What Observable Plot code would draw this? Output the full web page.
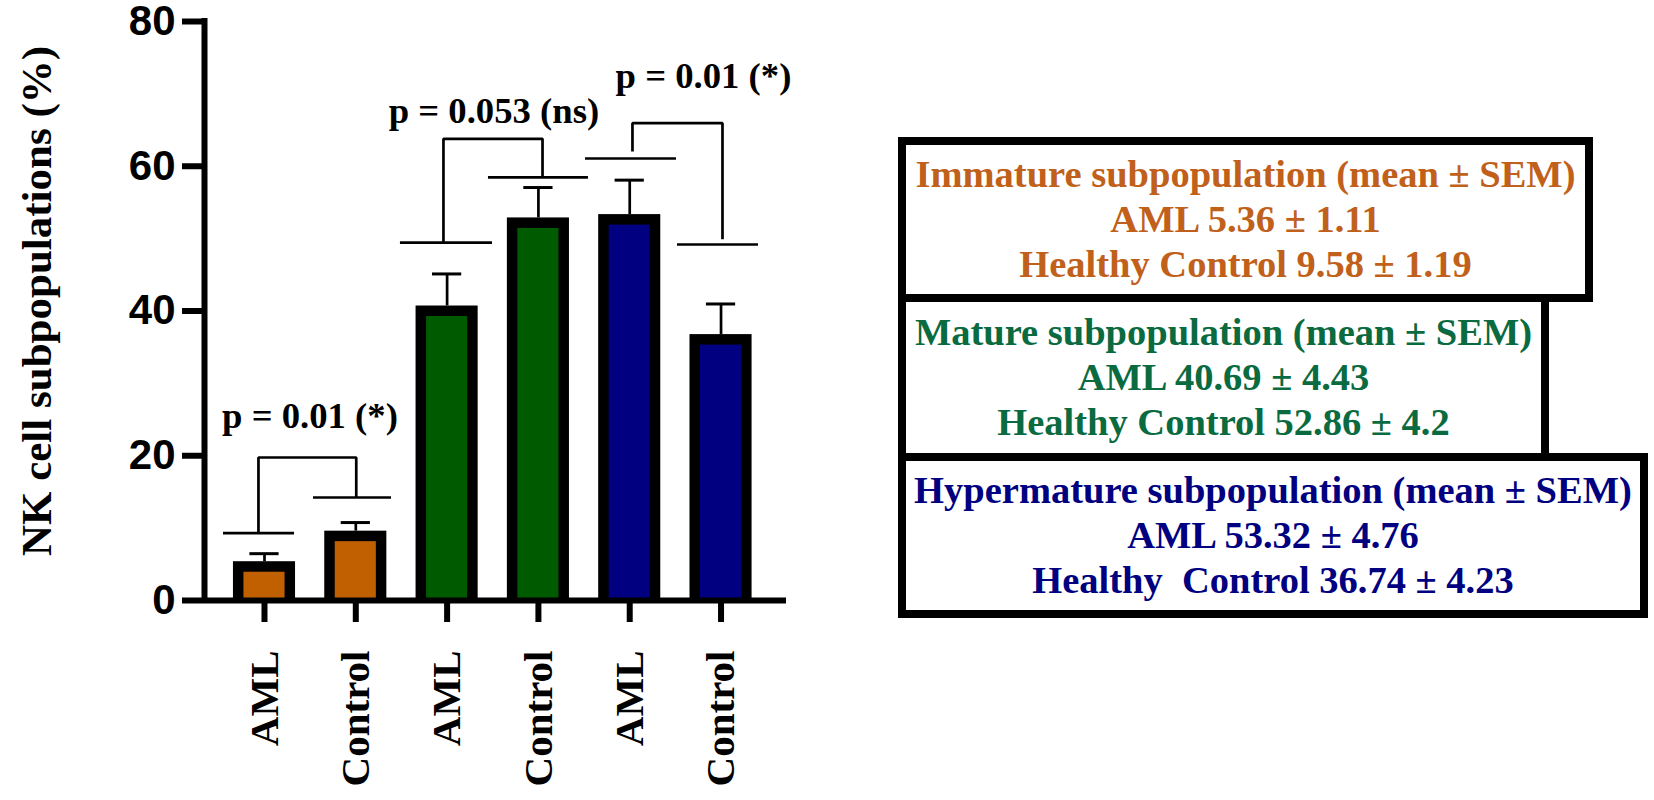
<!DOCTYPE html>
<html><head><meta charset="utf-8">
<script src="https://cdn.jsdelivr.net/npm/d3@7"></script>
<script src="https://cdn.jsdelivr.net/npm/@observablehq/plot@0.6"></script>
<style>
body{margin:0;background:#fff}
#wrap{position:relative;width:1654px;height:800px;overflow:hidden;background:#fff}
.box{position:absolute;box-sizing:border-box;border:8px solid #000;background:#fff;display:flex;flex-direction:column;justify-content:center;align-items:center;font-family:"Liberation Serif","Times New Roman",serif;font-weight:bold;font-size:38.5px;line-height:45px;white-space:pre}
</style></head><body><div id="wrap"></div>
<script>
// ---- data ----
const groups = ["Immature", "Immature", "Mature", "Mature", "Hypermature", "Hypermature"];
const labels = ["AML", "Control", "AML", "Control", "AML", "Control"];
const means = [5.36, 9.58, 40.69, 52.86, 53.32, 36.74];
const sems = [1.11, 1.19, 4.43, 4.2, 4.76, 4.23];
const yTicks = [0, 20, 40, 60, 80];
const yTitle = "NK cell subpopulations (%)";

const groupNames = ["Immature", "Mature", "Hypermature"];
const groupColors = ["#c06000", "#005a00", "#000080"];
const legendTextColors = ["#c0601a", "#0a6a40", "#000080"];
const legendTitles = ["Immature subpopulation (mean ± SEM)", "Mature subpopulation (mean ± SEM)", "Hypermature subpopulation (mean ± SEM)"];
const controlNames = ["Healthy Control", "Healthy Control", "Healthy  Control"];

// significance annotations (data units)
const sigLevel = [9.30, 14.23, 49.46, 58.45, 61.07, 49.19];
const sigX1 = [-0.449, 0.537, 1.489, 2.453, 3.516, 4.523];
const sigX2 = [0.329, 1.391, 2.497, 3.548, 4.512, 5.410];
const pLabels = ["p = 0.01 (*)", "p = 0.053 (ns)", "p = 0.01 (*)"];
const bracketTop = [19.76, 63.79, 65.95];
const legLeftX = [-0.066, 1.960, 4.030];
const legRightX = [1.005, 3.045, 5.016];
const legLeftBottom = [9.30, 49.46, 62.04];
const legRightBottom = [14.23, 58.45, 49.92];
const pLabelX = [0.498, 2.513, 4.808];
const pLabelY = [23.77, 65.91, 70.83];

// ---- tables ----
const idx = d3.range(labels.length);
const bars = idx.map(i => ({i, group: groups[i], label: labels[i], mean: means[i], sem: sems[i]}));
const sigLines = sigLevel.map((v, i) => ({level: v, x1: sigX1[i], x2: sigX2[i]}));
const bracketPts = pLabels.flatMap((_, g) => [
  {g, x: legLeftX[g], y: legLeftBottom[g]},
  {g, x: legLeftX[g], y: bracketTop[g]},
  {g, x: legRightX[g], y: bracketTop[g]},
  {g, x: legRightX[g], y: legRightBottom[g]}
]);
const pText = pLabels.map((t, g) => ({t, x: pLabelX[g], y: pLabelY[g]}));

const X0 = -0.657, X1 = 5.717, BW = 0.34, CAP = 0.16;
const serif = "Liberation Serif, Times New Roman, serif";
const sans = "Liberation Sans, Arial, sans-serif";

const plot = Plot.plot({
  width: 1654, height: 800,
  marginLeft: 204, marginRight: 868, marginTop: 21, marginBottom: 200,
  style: {background: "#fff", color: "#000", overflow: "visible"},
  x: {type: "linear", domain: [X0, X1]},
  y: {domain: [0, 80]},
  color: {domain: groupNames, range: groupColors},
  marks: [
    Plot.line(bracketPts, {x: "x", y: "y", z: "g", stroke: "#000", strokeWidth: 2.7, strokeLinejoin: "miter", strokeLinecap: "butt"}),
    Plot.ruleY(sigLines, {y: "level", x1: "x1", x2: "x2", stroke: "#000", strokeWidth: 2.7}),
    Plot.ruleX(bars, {x: "i", y1: "mean", y2: d => d.mean + d.sem, stroke: "#000", strokeWidth: 2.7}),
    Plot.ruleY(bars, {y: d => d.mean + d.sem, x1: d => d.i - CAP, x2: d => d.i + CAP, stroke: "#000", strokeWidth: 3}),
    Plot.rect(bars, {x1: d => d.i - BW, x2: d => d.i + BW, y1: 0, y2: "mean", fill: "#000"}),
    Plot.rect(bars, {x1: d => d.i - BW, x2: d => d.i + BW, y1: 0, y2: "mean", fill: "group", insetLeft: 10.5, insetRight: 10.5, insetTop: 10.5}),
    Plot.ruleX([X0], {y1: 0, y2: 80, stroke: "#000", strokeWidth: 6, strokeLinecap: "square"}),
    Plot.ruleY([0], {x1: X0, x2: X1, stroke: "#000", strokeWidth: 6}),
    Plot.axisY({ticks: yTicks, tickSize: 22, tickPadding: 7, strokeWidth: 6, fontSize: 42, fontWeight: "bold", fontFamily: sans, label: null}),
    Plot.axisX({ticks: idx, tickSize: 22, strokeWidth: 6, tickFormat: () => "", label: null}),
    Plot.text(bars, {x: "i", y: 0, text: "label", rotate: -90, textAnchor: "end", lineAnchor: "middle", dy: 50, fontSize: 41, fontWeight: "bold", fontFamily: serif, fill: "#000"}),
    Plot.text([yTitle], {frameAnchor: "left", text: d => d, rotate: -90, dx: -154, dy: -10, textAnchor: "middle", lineAnchor: "bottom", fontSize: 43, fontWeight: "bold", fontFamily: serif, fill: "#000"}),
    Plot.text(pText, {x: "x", y: "y", text: "t", textAnchor: "middle", lineAnchor: "bottom", fontSize: 36.7, fontWeight: "bold", fontFamily: serif, fill: "#000"})
  ]
});
const wrap = document.getElementById("wrap");
wrap.appendChild(plot);

// ---- legend boxes (HTML) ----
const boxGeom = [
  {left: 898, top: 137, width: 695, height: 165},
  {left: 898, top: 294, width: 651, height: 167},
  {left: 898, top: 453, width: 750, height: 165}
];
groupNames.forEach((g, k) => {
  const b = document.createElement("div");
  b.className = "box";
  const geo = boxGeom[k];
  Object.assign(b.style, {left: geo.left + "px", top: geo.top + "px", width: geo.width + "px", height: geo.height + "px", color: legendTextColors[k]});
  const lines = [legendTitles[k], `AML ${means[2*k]} ± ${sems[2*k]}`, `${controlNames[k]} ${means[2*k+1]} ± ${sems[2*k+1]}`];
  lines.forEach(t => { const d = document.createElement("div"); d.textContent = t; b.appendChild(d); });
  wrap.appendChild(b);
});
</script></body></html>
